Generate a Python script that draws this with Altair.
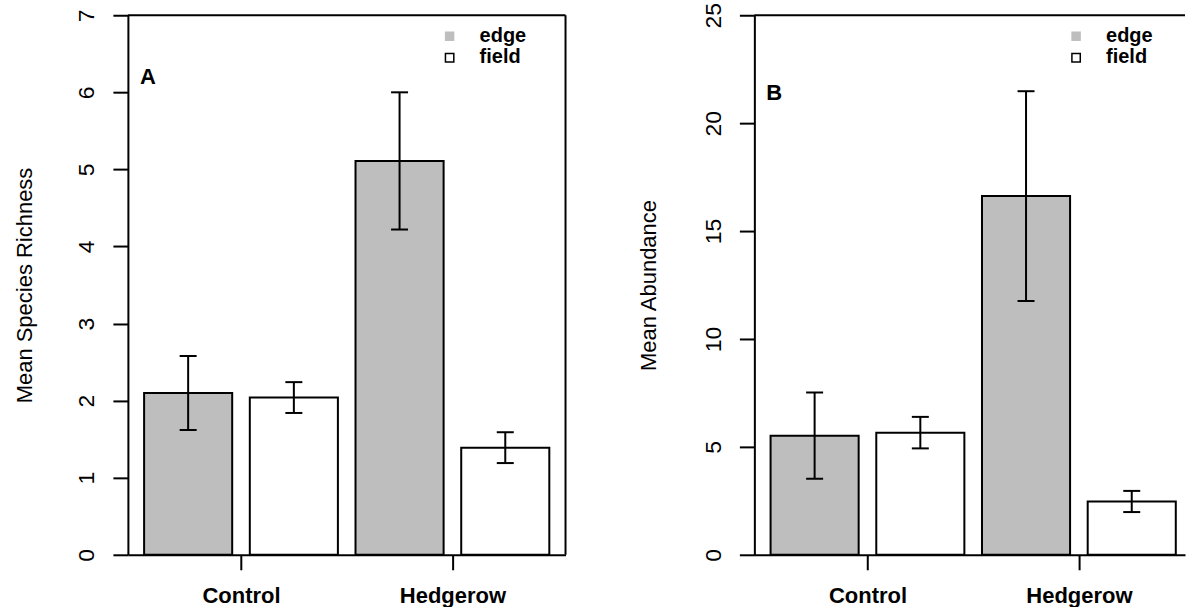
import altair as alt
import pandas as pd

FONT = "Liberation Sans"

groups = ["Control", "Hedgerow"]
types = ["edge", "field"]
type_fill = ["#bebebe", "#ffffff"]
panel_letters = ["A", "B"]

# Panel A: mean species richness (+/- SE)
richness_edge = [2.10, 5.11]
richness_field = [2.04, 1.39]
richness_edge_se = [0.48, 0.89]
richness_field_se = [0.20, 0.20]

# Panel B: mean abundance (+/- SE)
abundance_edge = [5.52, 16.62]
abundance_field = [5.66, 2.47]
abundance_edge_se = [2.00, 4.86]
abundance_field_se = [0.73, 0.49]

# barplot-style layout: unit-width bars separated by 0.2, range padded by 4%
SPACE = 0.2
N_BARS = 4
X_LO = SPACE - 0.04 * (N_BARS * (1 + SPACE) - SPACE)
X_HI = N_BARS * (1 + SPACE) + 0.04 * (N_BARS * (1 + SPACE) - SPACE)

PLOT_H = 540
LEFT_W = 438
RIGHT_W = 431
PX_PER_UNIT = LEFT_W / (X_HI - X_LO)


def build_frame(edge, field, edge_se, field_se):
    rows = []
    i = 0
    for g, grp in enumerate(groups):
        for t, (m, s) in zip(types, [(edge[g], edge_se[g]), (field[g], field_se[g])]):
            left = SPACE + i * (1 + SPACE)
            rows.append(dict(group=grp, type=t, mean=m, lo=m - s, hi=m + s,
                             x0=left, x1=left + 1, xc=left + 0.5))
            i += 1
    return pd.DataFrame(rows)


def group_centers():
    return [SPACE + (2 * g) * (1 + SPACE) + (1 + SPACE) - SPACE / 2 for g in range(len(groups))]


def panel(df, ymax, ystep, ytitle, letter, letter_y, width, title_x):
    x_hi = X_LO + width / PX_PER_UNIT
    xs = alt.Scale(domain=[X_LO, x_hi], nice=False, zero=False)
    ys = alt.Scale(domain=[0, ymax], nice=False, zero=True)
    centers = group_centers()
    label_expr = "datum.value < %f ? '%s' : '%s'" % ((centers[0] + centers[1]) / 2, groups[0], groups[1])

    x_axis = alt.Axis(values=centers, labelExpr=label_expr, title=None, grid=False,
                      domain=True, domainColor="black", domainWidth=2,
                      ticks=True, tickSize=15, tickWidth=2, tickColor="black",
                      labelFont=FONT, labelFontSize=22, labelFontWeight="bold",
                      labelColor="black", labelPadding=16, labelFlush=False)
    y_axis = alt.Axis(values=list(range(0, ymax + 1, ystep)), format="d",
                      title=ytitle, grid=False,
                      domain=True, domainColor="black", domainWidth=2,
                      ticks=True, tickSize=15, tickWidth=2, tickColor="black",
                      labelFont=FONT, labelFontSize=23, labelColor="black",
                      labelAngle=270, labelAlign="center", labelBaseline="alphabetic",
                      labelPadding=19, labelOverlap=False, labelFlush=False,
                      titleFont=FONT, titleFontSize=22, titleFontWeight="normal",
                      titleColor="black", titleAngle=270, titleAlign="center",
                      titleBaseline="alphabetic", titleX=title_x, titleY=PLOT_H / 2)

    base = alt.Chart(df)
    bars = base.mark_rect(stroke="black", strokeWidth=2).encode(
        x=alt.X("x0:Q", scale=xs, axis=x_axis),
        x2="x1:Q",
        y=alt.Y("mean:Q", scale=ys, axis=y_axis),
        y2=alt.datum(0),
        fill=alt.Fill("type:N", scale=alt.Scale(domain=types, range=type_fill), legend=None),
    )
    whisker = base.mark_rule(color="black", strokeWidth=2).encode(
        x="xc:Q", y="lo:Q", y2="hi:Q")
    cap_hi = base.mark_tick(orient="horizontal", color="black", size=17,
                            thickness=2, opacity=1).encode(x="xc:Q", y="hi:Q")
    cap_lo = base.mark_tick(orient="horizontal", color="black", size=17,
                            thickness=2, opacity=1).encode(x="xc:Q", y="lo:Q")

    top_line = alt.Chart().mark_rule(color="black", strokeWidth=2).encode(
        x=alt.value(0), x2=alt.value(width), y=alt.value(0))
    layers = [bars, whisker, cap_hi, cap_lo, top_line]
    if width == LEFT_W:
        layers.append(alt.Chart().mark_rule(color="black", strokeWidth=2).encode(
            x=alt.value(width), y=alt.value(0), y2=alt.value(PLOT_H)))

    letter_mark = alt.Chart().mark_text(font=FONT, fontSize=22, fontWeight="bold",
                                        align="left", baseline="alphabetic",
                                        color="black").encode(
        x=alt.value(12), y=alt.value(letter_y), text=alt.value(letter))

    key_edge = alt.Chart().mark_square(size=90, fill=type_fill[0], stroke=None,
                                       opacity=1).encode(x=alt.value(322), y=alt.value(21))
    key_field = alt.Chart().mark_square(size=70, fill=type_fill[1], stroke="black",
                                        strokeWidth=1.5, opacity=1).encode(
        x=alt.value(322), y=alt.value(42.5))
    key_text_edge = alt.Chart().mark_text(font=FONT, fontSize=20, fontWeight="bold",
                                          align="left", baseline="alphabetic",
                                          color="black").encode(
        x=alt.value(352), y=alt.value(27), text=alt.value(types[0]))
    key_text_field = alt.Chart().mark_text(font=FONT, fontSize=20, fontWeight="bold",
                                           align="left", baseline="alphabetic",
                                           color="black").encode(
        x=alt.value(352), y=alt.value(48), text=alt.value(types[1]))

    layers += [letter_mark, key_edge, key_field, key_text_edge, key_text_field]
    return alt.layer(*layers).properties(width=width, height=PLOT_H)


richness = build_frame(richness_edge, richness_field, richness_edge_se, richness_field_se)
abundance = build_frame(abundance_edge, abundance_field, abundance_edge_se, abundance_field_se)

left = panel(richness, 7, 1, "Mean Species Richness", panel_letters[0], 69, LEFT_W, -96)
right = panel(abundance, 25, 5, "Mean Abundance", panel_letters[1], 85, RIGHT_W, -99)

chart = alt.hconcat(left, right, spacing=189, bounds="flush").properties(
    padding={"left": 14, "top": 2, "right": 0, "bottom": 0},
    background="white",
).configure_view(stroke=None)

chart.save("out.html", embed_options={"renderer": "svg", "actions": False})
